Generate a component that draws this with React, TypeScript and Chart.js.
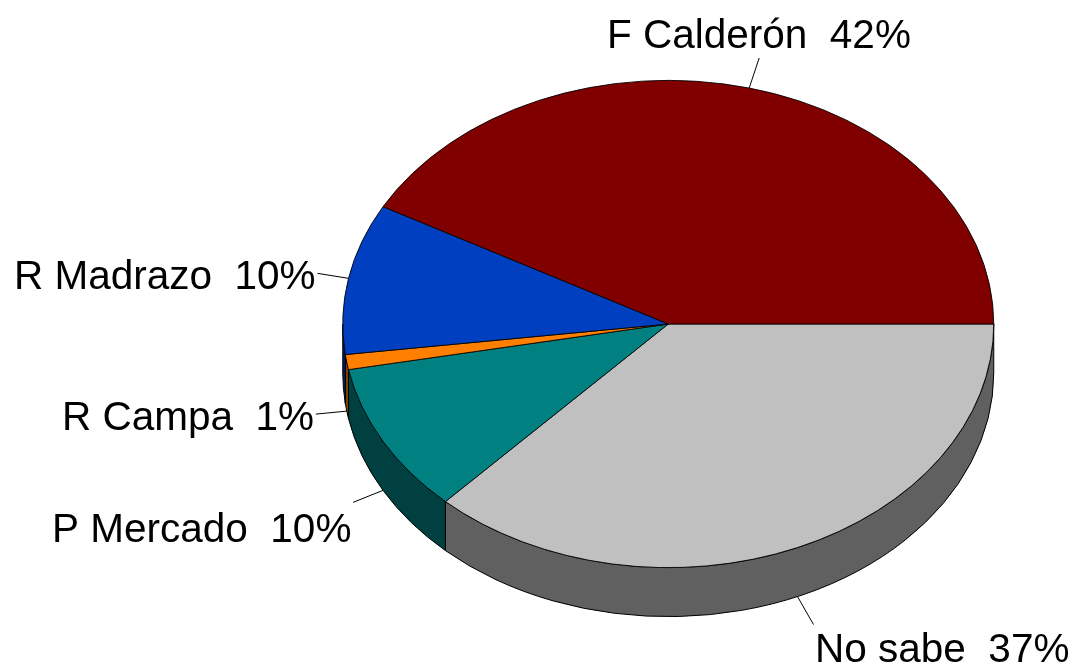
import React, { useEffect, useRef } from "react";
import { Chart, registerables } from "chart.js";

Chart.register(...registerables);

const categories = ["No sabe", "P Mercado", "R Campa", "R Madrazo", "F Calderón"];
const shares = [37, 10, 1, 10, 42];
const faceColors = ["#C0C0C0", "#008080", "#FF8000", "#0040C0", "#800000"];
const wallColors = ["#606060", "#004040", "#804000", "#002060", "#400000"];

// Label placement: left edge and baseline of the text, end of the leader line relative to its start.
const labelLeft = [815, 52, 62, 14, 607];
const labelBaseline = [662, 542, 430, 289, 48];
const leaderDx = [16, -30, -31, -31, 10];
const leaderDy = [28, 12, 3, -5, -30];

const SQUASH = 244 / 326;
const DEPTH = 49;
const CENTER_Y = 324;
const FONT = '40.5px "Liberation Sans", Arial, sans-serif';

const pie3d = {
  id: "pie3d",
  beforeDatasetsDraw(chart: any) {
    const { ctx } = chart;
    const arcs = chart.getDatasetMeta(0).data;
    arcs.forEach((arc: any, i: number) => {
      const s = Math.max(arc.startAngle, 0);
      const e = Math.min(arc.endAngle, Math.PI);
      if (e <= s) return;
      const rx = arc.outerRadius;
      const ry = rx * SQUASH;
      ctx.save();
      ctx.beginPath();
      ctx.ellipse(arc.x, CENTER_Y, rx, ry, 0, s, e, false);
      ctx.ellipse(arc.x, CENTER_Y + DEPTH, rx, ry, 0, e, s, true);
      ctx.closePath();
      ctx.fillStyle = wallColors[i];
      ctx.fill();
      ctx.lineWidth = 1;
      ctx.strokeStyle = "#000";
      ctx.lineJoin = "round";
      ctx.stroke();
      ctx.restore();
    });
    const cy = arcs[0].y;
    ctx.save();
    ctx.translate(0, CENTER_Y);
    ctx.scale(1, SQUASH);
    ctx.translate(0, -cy);
  },
  afterDatasetsDraw(chart: any) {
    chart.ctx.restore();
  },
  afterDraw(chart: any) {
    const { ctx } = chart;
    const arcs = chart.getDatasetMeta(0).data;
    ctx.save();
    ctx.font = FONT;
    ctx.fillStyle = "#000";
    ctx.textAlign = "left";
    ctx.textBaseline = "alphabetic";
    arcs.forEach((arc: any, i: number) => {
      const mid = (arc.startAngle + arc.endAngle) / 2;
      const rx = arc.outerRadius;
      const sin = Math.sin(mid);
      const x = arc.x + rx * Math.cos(mid);
      const y = CENTER_Y + rx * SQUASH * sin + (sin > 0 ? DEPTH : 0);
      ctx.beginPath();
      ctx.moveTo(x, y);
      ctx.lineTo(x + leaderDx[i], y + leaderDy[i]);
      ctx.lineWidth = 1;
      ctx.strokeStyle = "#000";
      ctx.stroke();
      ctx.fillText(`${categories[i]}  ${shares[i]}%`, labelLeft[i], labelBaseline[i]);
    });
    ctx.restore();
  },
};

export default function App() {
  const ref = useRef<HTMLCanvasElement>(null);
  useEffect(() => {
    const chart = new Chart(ref.current as HTMLCanvasElement, {
      type: "pie",
      data: {
        labels: categories,
        datasets: [
          {
            data: shares,
            backgroundColor: faceColors,
            borderColor: "#000",
            borderWidth: 1,
            clip: false,
          } as any,
        ],
      },
      options: {
        responsive: false,
        animation: false,
        rotation: 90,
        layout: { padding: { left: 342, right: 79.5, top: 8, bottom: 8 } },
        plugins: { legend: { display: false }, tooltip: { enabled: false } },
      },
      plugins: [pie3d],
    } as any);
    return () => chart.destroy();
  }, []);
  return (
    <canvas
      ref={ref}
      width={1074}
      height={668}
      style={{ position: "absolute", left: 0, top: 0, width: 1074, height: 668, background: "#fff" }}
    />
  );
}
